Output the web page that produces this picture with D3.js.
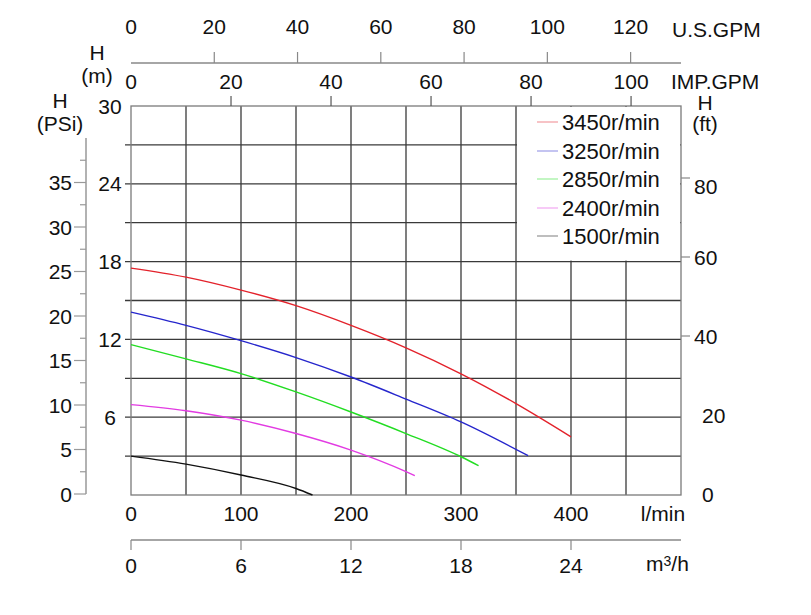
<!DOCTYPE html>
<html>
<head>
<meta charset="utf-8">
<script src="https://cdn.jsdelivr.net/npm/d3@7"></script>
<style>
  body { margin: 0; background: #fff; }
  svg text { font-family: "Liberation Sans", Arial, sans-serif; fill: #111; }
</style>
</head>
<body>
<svg id="chart" width="811" height="615"></svg>
<script>
// flow in l/min, head in m
var speeds = ["3450r/min", "3250r/min", "2850r/min", "2400r/min", "1500r/min"];
var colors = ["#e3222b", "#2626cc", "#22dd22", "#e23be2", "#111111"];

var flow3450 = [0, 50, 100, 150, 200, 250, 300, 350, 400];
var head3450 = [17.5, 16.8, 15.8, 14.6, 13.08, 11.35, 9.35, 7.05, 4.49];
var flow3250 = [0, 50, 100, 150, 200, 250, 300, 361];
var head3250 = [14.1, 13.08, 11.9, 10.6, 9.1, 7.4, 5.64, 3.03];
var flow2850 = [0, 50, 100, 150, 200, 250, 300, 316];
var head2850 = [11.6, 10.5, 9.36, 7.95, 6.4, 4.74, 2.95, 2.26];
var flow2400 = [0, 50, 100, 150, 200, 250, 258];
var head2400 = [6.97, 6.5, 5.77, 4.74, 3.46, 1.8, 1.49];
var flow1500 = [0, 50, 100, 150, 165];
var head1500 = [3.0, 2.38, 1.54, 0.5, 0];

var flowTicks = [0, 100, 200, 300, 400];
var m3hTicks = [0, 6, 12, 18, 24];
var usTicks = [0, 20, 40, 60, 80, 100, 120];
var impTicks = [0, 20, 40, 60, 80, 100];
var mTicks = [6, 12, 18, 24, 30];
var psiTicks = [0, 5, 10, 15, 20, 25, 30, 35];
var ftTicks = [0, 20, 40, 60, 80];

var svg = d3.select("#chart");
var L = 131, R = 681, T = 106, B = 495;

var x = d3.scaleLinear().domain([0, 500]).range([L, R]);
var y = d3.scaleLinear().domain([0, 30]).range([B, T]);
var xM3 = d3.scaleLinear().domain([0, 30]).range([L, R]);
var xUS = d3.scaleLinear().domain([0, 500 / 3.785]).range([L, R]);
var xImp = d3.scaleLinear().domain([0, 500 / 4.546]).range([L, R]);
var yPsi = d3.scaleLinear().domain([0, 40]).range([494, 138]);
var yFt = d3.scaleLinear().domain([0, 80]).range([494, 178]);

var gridColor = "#3a3a3a";
var fs = "21px";

// grid
svg.append("g").selectAll("line").data(d3.range(3, 30, 3)).join("line")
  .attr("x1", L - 6).attr("x2", R)
  .attr("y1", d => y(d)).attr("y2", d => y(d))
  .attr("stroke", gridColor).attr("stroke-width", 1.3);
svg.append("g").selectAll("line").data(d3.range(50, 500, 50)).join("line")
  .attr("x1", d => x(d)).attr("x2", d => x(d))
  .attr("y1", T).attr("y2", B)
  .attr("stroke", gridColor).attr("stroke-width", 1.3);
svg.append("rect").attr("x", L).attr("y", T).attr("width", R - L).attr("height", B - T)
  .attr("fill", "none").attr("stroke", "#7a7a7a").attr("stroke-width", 1.3);

// legend backdrop
svg.append("rect").attr("x", x(350) + 1).attr("y", T + 1)
  .attr("width", R - x(350) - 2).attr("height", y(18) - T - 2)
  .attr("fill", "#fff");

// curves
var line = d3.line().x(d => x(d[0])).y(d => y(d[1])).curve(d3.curveMonotoneX);
var series = [
  d3.zip(flow3450, head3450),
  d3.zip(flow3250, head3250),
  d3.zip(flow2850, head2850),
  d3.zip(flow2400, head2400),
  d3.zip(flow1500, head1500)
];
svg.append("g").selectAll("path").data(series).join("path")
  .attr("d", line).attr("fill", "none")
  .attr("stroke", (d, i) => colors[i]).attr("stroke-width", 1.4);

// legend
var legRows = [122, 151, 179, 208, 236];
var leg = svg.append("g").selectAll("g").data(speeds).join("g")
  .attr("transform", (d, i) => "translate(537," + legRows[i] + ")");
leg.append("line").attr("x1", 0).attr("x2", 21)
  .attr("stroke", (d, i) => colors[i]).attr("stroke-opacity", 0.45).attr("stroke-width", 1.2);
leg.append("text").attr("x", 25).attr("dy", "0.36em").style("font-size", "22px").text(d => d);

// left m labels
svg.append("g").selectAll("text").data(mTicks).join("text")
  .attr("x", 110).attr("y", d => y(d)).attr("dy", "0.36em")
  .attr("text-anchor", "middle").style("font-size", fs).text(d => d);

// bottom l/min
svg.append("g").selectAll("text").data(flowTicks).join("text")
  .attr("x", d => x(d)).attr("y", 521).attr("text-anchor", "middle")
  .style("font-size", fs).text(d => d);
svg.append("text").attr("x", 663).attr("y", 521).attr("text-anchor", "middle")
  .style("font-size", fs).text("l/min");

// m3/h axis
var gM3 = svg.append("g").attr("transform", "translate(0,540)");
gM3.append("line").attr("x1", L).attr("x2", R).attr("stroke", "#888").attr("stroke-width", 1.5);
gM3.selectAll(".t").data(m3hTicks).join("line").attr("class", "t")
  .attr("x1", d => xM3(d)).attr("x2", d => xM3(d)).attr("y1", 0).attr("y2", 10)
  .attr("stroke", "#888").attr("stroke-width", 1.2);
gM3.selectAll("text").data(m3hTicks).join("text")
  .attr("x", d => xM3(d)).attr("y", 33).attr("text-anchor", "middle")
  .style("font-size", fs).text(d => d);
var m3Label = svg.append("text").attr("x", 646).attr("y", 571).style("font-size", fs);
m3Label.append("tspan").text("m");
m3Label.append("tspan").attr("dy", -5).style("font-size", "14px").text("3");
m3Label.append("tspan").attr("dy", 5).text("/h");

// US GPM axis
var gUS = svg.append("g").attr("transform", "translate(0,63)");
gUS.append("line").attr("x1", L).attr("x2", R).attr("stroke", "#888").attr("stroke-width", 1.5);
gUS.selectAll(".t").data(usTicks.filter(d => d > 0)).join("line").attr("class", "t")
  .attr("x1", d => xUS(d)).attr("x2", d => xUS(d)).attr("y1", 0).attr("y2", -11)
  .attr("stroke", "#888").attr("stroke-width", 1.2);
gUS.selectAll("text").data(usTicks).join("text")
  .attr("x", d => xUS(d)).attr("y", -29).attr("text-anchor", "middle")
  .style("font-size", fs).text(d => d);
svg.append("text").attr("x", 672).attr("y", 37).style("font-size", fs).text("U.S.GPM");

// IMP GPM axis (ticks on plot top)
svg.append("g").selectAll("line").data(impTicks.filter(d => d > 0)).join("line")
  .attr("x1", d => xImp(d)).attr("x2", d => xImp(d)).attr("y1", T).attr("y2", T - 10)
  .attr("stroke", "#555").attr("stroke-width", 1.2);
svg.append("g").selectAll("text").data(impTicks).join("text")
  .attr("x", d => xImp(d)).attr("y", 89).attr("text-anchor", "middle")
  .style("font-size", fs).text(d => d);
svg.append("text").attr("x", 671).attr("y", 89).style("font-size", fs).text("IMP.GPM");

// PSi axis
var gPsi = svg.append("g").attr("transform", "translate(86,0)");
gPsi.append("line").attr("y1", yPsi(40)).attr("y2", yPsi(0)).attr("stroke", "#999").attr("stroke-width", 1.5);
gPsi.selectAll(".t").data(d3.range(0, 40, 2.5)).join("line").attr("class", "t")
  .attr("x1", d => d % 5 === 0 ? -12 : -6).attr("x2", 0)
  .attr("y1", d => yPsi(d)).attr("y2", d => yPsi(d))
  .attr("stroke", "#999").attr("stroke-width", 1.2);
gPsi.selectAll("text").data(psiTicks).join("text")
  .attr("x", -14).attr("y", d => yPsi(d)).attr("dy", "0.36em")
  .attr("text-anchor", "end").style("font-size", fs).text(d => d);

// ft axis
var gFt = svg.append("g").attr("transform", "translate(" + R + ",0)");
gFt.selectAll("line").data(ftTicks.filter(d => d >= 40)).join("line")
  .attr("x1", 0).attr("x2", 9).attr("y1", d => yFt(d)).attr("y2", d => yFt(d))
  .attr("stroke", "#888").attr("stroke-width", 1.2);
gFt.selectAll("text").data(ftTicks).join("text")
  .attr("x", d => d >= 40 ? 13 : 21).attr("y", d => yFt(d) + (d === 80 ? 8 : 0)).attr("dy", "0.36em")
  .style("font-size", fs).text(d => d);

// axis titles
function title(cx, y1, y2, sub) {
  svg.append("text").attr("x", cx).attr("y", y1).attr("text-anchor", "middle").style("font-size", fs).text("H");
  svg.append("text").attr("x", cx).attr("y", y2).attr("text-anchor", "middle").style("font-size", fs).text(sub);
}
title(97, 60, 83, "(m)");
title(60, 108, 131, "(PSi)");
title(705, 110, 131, "(ft)");
</script>
</body>
</html>
